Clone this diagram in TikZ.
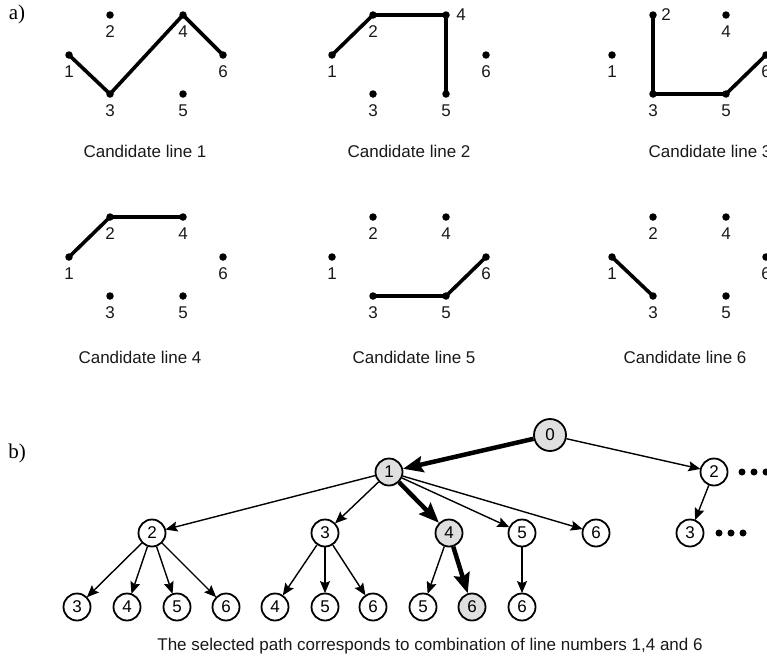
\documentclass[tikz,border=0pt]{standalone}
\usepackage{fontspec}
\setsansfont{Liberation Sans}
\newfontfamily\labserif{Liberation Serif}
\usetikzlibrary{arrows.meta}
\definecolor{nodegray}{HTML}{DFDFDF}
\begin{document}
\begin{tikzpicture}[x=1pt,y=-1pt,
  txt/.style={font=\sffamily\fontsize{17}{20}\selectfont, inner sep=0pt, text=black!90},
  dotpt/.style={circle, fill=black, inner sep=0pt, minimum size=7.5pt},
  cline/.style={line width=3.6pt, line join=round, line cap=round},
  tnode/.style={circle, draw, line width=1.8pt, minimum size=27pt, inner sep=0pt, fill=white, font=\sffamily\fontsize{17}{20}\selectfont},
  hot/.style={fill=nodegray},
  thin/.style={line width=1.4pt, -{Stealth[length=12pt,width=10pt,inset=2pt]}, shorten >=-0.5pt},
  thick/.style={line width=4.5pt, -{Stealth[length=20pt,width=16pt,inset=3pt]}},
  tdot/.style={circle, fill=black, inner sep=0pt, minimum size=7pt},
  sect/.style={font=\labserif\fontsize{21}{24}\selectfont, inner sep=0pt}
]
\useasboundingbox (0,0) rectangle (767,659);

\node[sect] (la) at (17,14) {a)};
\node[sect] (lb) at (17,453) {b)};

% candidate point sets
\foreach \c/\ox/\oy in {1/0/0, 2/263/0, 3/543/0, 4/0/202, 5/263/202, 6/543/202}{
  \node[dotpt] (c\c-1) at (69+\ox,55+\oy) {};
  \node[dotpt] (c\c-2) at (110+\ox,15+\oy) {};
  \node[dotpt] (c\c-3) at (110+\ox,94+\oy) {};
  \node[dotpt] (c\c-4) at (183+\ox,15+\oy) {};
  \node[dotpt] (c\c-5) at (183+\ox,94+\oy) {};
  \node[dotpt] (c\c-6) at (223+\ox,55+\oy) {};
}
% point labels
\foreach \c/\ox/\oy in {1/0/0, 3/543/0, 4/0/202, 5/263/202, 6/543/202}{
  \node[txt] (c\c-1l) at (69+\ox,72+\oy) {1};
  \node[txt] (c\c-3l) at (110+\ox,111+\oy) {3};
  \node[txt] (c\c-4l) at (183+\ox,32+\oy) {4};
  \node[txt] (c\c-5l) at (183+\ox,111+\oy) {5};
  \node[txt] (c\c-6l) at (223+\ox,72+\oy) {6};
}
\foreach \c/\ox/\oy in {1/0/0, 2/263/0, 4/0/202, 5/263/202, 6/543/202}{
  \node[txt] (c\c-2l) at (110+\ox,32+\oy) {2};
}
\node[txt] (c2-1l) at (332,72) {1};
\node[txt] (c2-3l) at (373,111) {3};
\node[txt] (c2-4l) at (461,15) {4};
\node[txt] (c2-5l) at (446,111) {5};
\node[txt] (c2-6l) at (486,72) {6};
\node[txt] (c3-2l) at (666,15) {2};

% candidate lines
\draw[cline] (c1-1.center) -- (c1-3.center) -- (c1-4.center) -- (c1-6.center);
\draw[cline] (c2-1.center) -- (c2-2.center) -- (c2-4.center) -- (c2-5.center);
\draw[cline] (c3-2.center) -- (c3-3.center) -- (c3-5.center) -- (c3-6.center);
\draw[cline] (c4-1.center) -- (c4-2.center) -- (c4-4.center);
\draw[cline] (c5-3.center) -- (c5-5.center) -- (c5-6.center);
\draw[cline] (c6-1.center) -- (c6-3.center);

% captions
\node[txt] (cap1) at (145,151) {Candidate line 1};
\node[txt] (cap2) at (409,151) {Candidate line 2};
\node[txt] (cap3) at (710,151) {Candidate line 3};
\node[txt] (cap4) at (140,357) {Candidate line 4};
\node[txt] (cap5) at (414,357) {Candidate line 5};
\node[txt] (cap6) at (685,357) {Candidate line 6};

% tree
\node[tnode, hot, minimum size=32pt] (r0) at (550,435) {0};
\node[tnode, hot] (n1) at (389,472) {1};
\node[tnode] (n2) at (714,472) {2};
\node[tnode] (m2) at (152,533) {2};
\node[tnode] (m3) at (325,533) {3};
\node[tnode, hot] (m4) at (449,533) {4};
\node[tnode] (m5) at (522,533) {5};
\node[tnode] (m6) at (596,533) {6};
\node[tnode] (q3) at (690,533) {3};
\node[tnode] (a3) at (77,607) {3};
\node[tnode] (a4) at (127,607) {4};
\node[tnode] (a5) at (177,607) {5};
\node[tnode] (a6) at (226,607) {6};
\node[tnode] (b4) at (275,607) {4};
\node[tnode] (b5) at (325,607) {5};
\node[tnode] (b6) at (373,607) {6};
\node[tnode] (d5) at (423,607) {5};
\node[tnode, hot] (d6) at (472,607) {6};
\node[tnode] (e6) at (522,607) {6};

\draw[thick] (r0) -- (n1);
\draw[thin] (r0) -- (n2);
\draw[thin] (n1) -- (m2);
\draw[thin] (n1) -- (m3);
\draw[thick] (n1) -- (m4);
\draw[thin] (n1) -- (m5);
\draw[thin] (n1) -- (m6);
\draw[thin] (n2) -- (q3);
\draw[thin] (m2) -- (a3);
\draw[thin] (m2) -- (a4);
\draw[thin] (m2) -- (a5);
\draw[thin] (m2) -- (a6);
\draw[thin] (m3) -- (b4);
\draw[thin] (m3) -- (b5);
\draw[thin] (m3) -- (b6);
\draw[thin] (m4) -- (d5);
\draw[thick] (m4) -- (d6);
\draw[thin] (m5) -- (e6);

% ellipsis dots
\node[tdot] (x1) at (742,472) {};
\node[tdot] (x2) at (754,472) {};
\node[tdot] (x3) at (766,472) {};
\node[tdot] (y1) at (719,533) {};
\node[tdot] (y2) at (731,533) {};
\node[tdot] (y3) at (743,533) {};

\node[txt] (capb) at (430,646) {The selected path corresponds to combination of line numbers 1,4 and 6};
\end{tikzpicture}
\end{document}
